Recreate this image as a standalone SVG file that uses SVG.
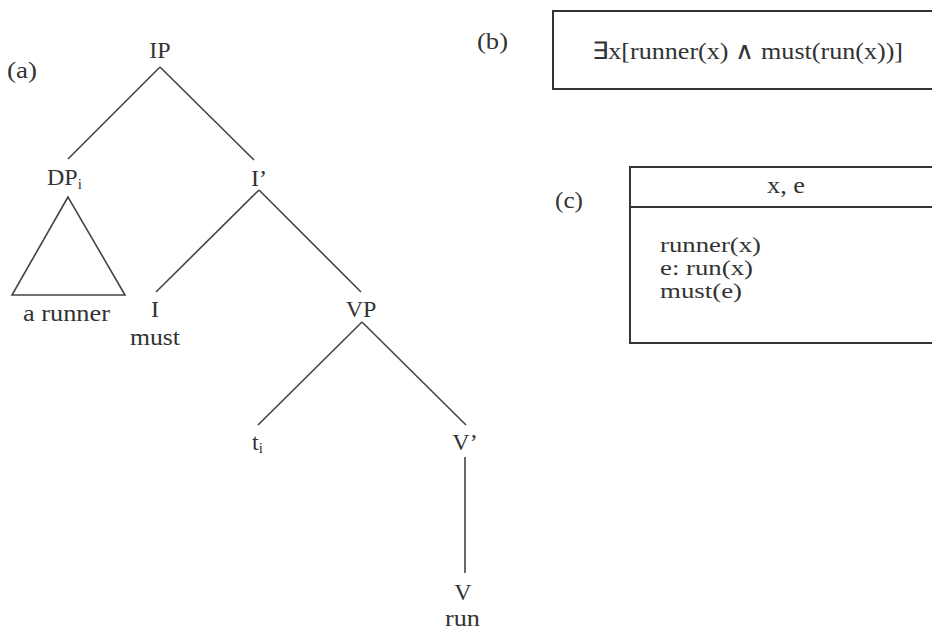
<svg xmlns="http://www.w3.org/2000/svg" width="932" height="631" viewBox="0 0 932 631">
<style>
text{font-family:"Liberation Serif","Times New Roman",serif;font-size:24px;fill:#333}
.m{text-anchor:middle}
.sub{font-size:15px}
.s{font-size:22px}
.ln{stroke:#444;stroke-width:1.6;fill:none}
.box{stroke:#333;stroke-width:2;fill:#fff}
</style>
<rect width="932" height="631" fill="#fff"/>
<g id="connectors">
<line class="ln" x1="160" y1="67" x2="68" y2="159"/>
<line class="ln" x1="160" y1="67" x2="254" y2="160"/>
<line class="ln" x1="259" y1="190" x2="156" y2="292"/>
<line class="ln" x1="259" y1="190" x2="361" y2="292"/>
<line class="ln" x1="362" y1="322" x2="258" y2="425"/>
<line class="ln" x1="362" y1="322" x2="466" y2="425"/>
<line class="ln" x1="465" y1="457" x2="465" y2="573"/>
</g>
<g id="label-a"><text x="7" y="78" textLength="30" lengthAdjust="spacingAndGlyphs">(a)</text></g>
<g id="IP"><text class="m" x="160" y="58">IP</text></g>
<g id="DP"><text x="47" y="185">DP<tspan class="sub" dy="4">i</tspan></text>
<polygon class="ln" points="68,197 12,295 125,295"/>
<text x="23" y="321" textLength="87" lengthAdjust="spacingAndGlyphs">a runner</text></g>
<g id="Ibar"><text class="m" x="259" y="186">I’</text></g>
<g id="I"><text class="m" x="155" y="317">I</text><text x="130" y="345" textLength="50" lengthAdjust="spacingAndGlyphs">must</text></g>
<g id="VP"><text class="m" x="361" y="317">VP</text></g>
<g id="t"><text x="252" y="450">t<tspan class="sub" dy="3">i</tspan></text></g>
<g id="Vbar"><text class="m" x="465" y="450">V’</text></g>
<g id="V"><text class="m" x="463" y="600">V</text><text x="445" y="626" textLength="35" lengthAdjust="spacingAndGlyphs">run</text></g>
<g id="label-b"><text x="477" y="49" textLength="31" lengthAdjust="spacingAndGlyphs">(b)</text></g>
<g id="box-b"><rect class="box" x="553" y="11" width="400" height="78"/>
<text x="592" y="59" textLength="311" lengthAdjust="spacingAndGlyphs">∃x[runner(x) ∧ must(run(x))]</text></g>
<g id="label-c"><text x="555" y="208" textLength="28" lengthAdjust="spacingAndGlyphs">(c)</text></g>
<g id="box-c"><rect class="box" x="630" y="167" width="400" height="176"/>
<line class="box" x1="630" y1="207" x2="932" y2="207"/>
<text x="767" y="193" textLength="38" lengthAdjust="spacingAndGlyphs">x, e</text>
<text class="s" x="660" y="252" textLength="101" lengthAdjust="spacingAndGlyphs">runner(x)</text>
<text class="s" x="660" y="275" textLength="93" lengthAdjust="spacingAndGlyphs">e: run(x)</text>
<text class="s" x="660" y="298" textLength="82" lengthAdjust="spacingAndGlyphs">must(e)</text></g>
</svg>
